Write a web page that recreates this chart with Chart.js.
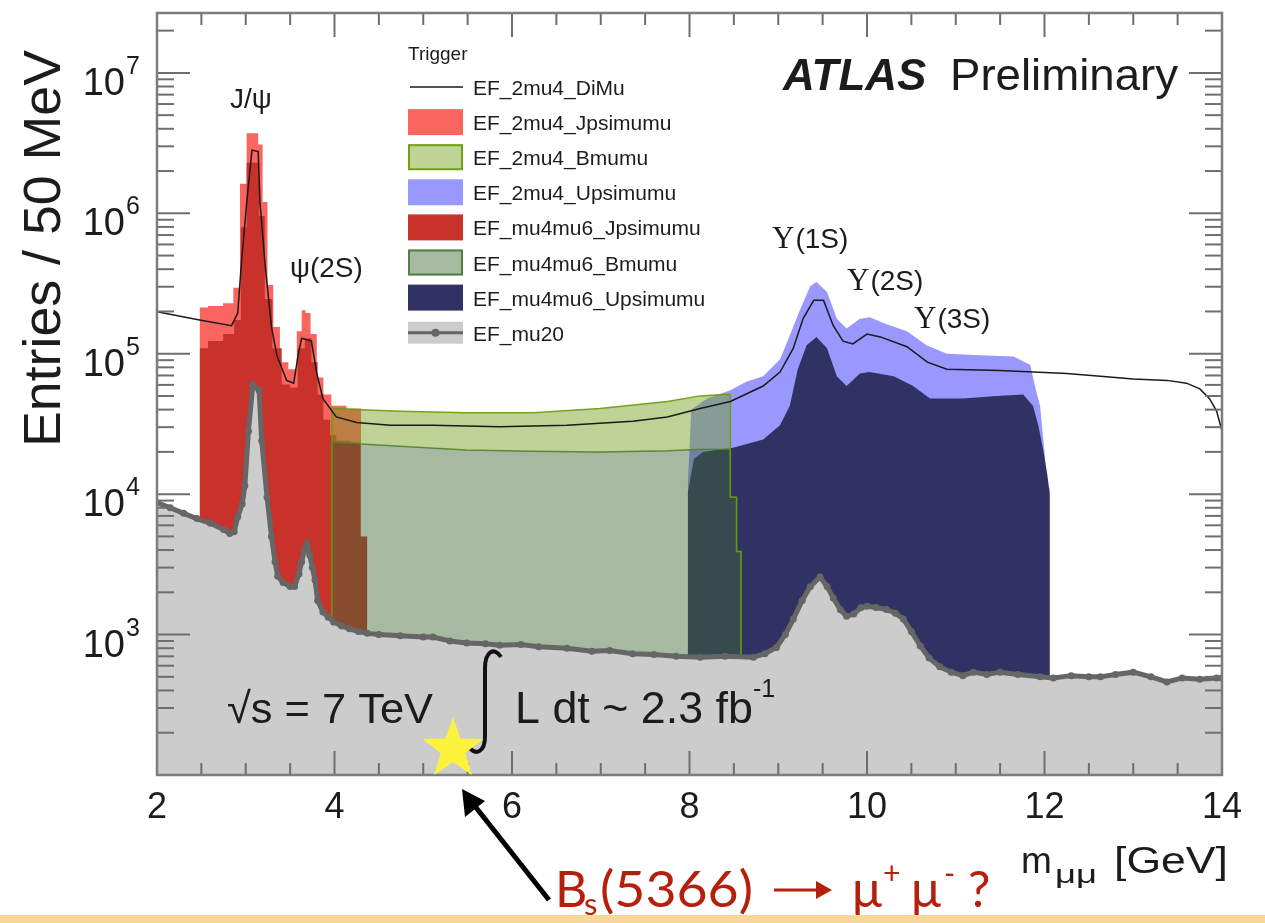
<!DOCTYPE html>
<html>
<head>
<meta charset="utf-8">
<script src="https://cdn.jsdelivr.net/npm/chart.js@4.4.1/dist/chart.umd.min.js"></script>
<style>
  html, body { margin: 0; padding: 0; background: #fff; }
  #wrap { width: 1265px; height: 923px; }
</style>
</head>
<body>
<div id="wrap"><canvas id="chart" width="1265" height="923"></canvas></div>
<script>
// Dimuon mass spectrum, entries / 50 MeV, per trigger
// 100 is the floor of the log axis, used where a histogram switches on/off

const mu20Mass = [2.00, 2.15, 2.30, 2.45, 2.60, 2.75, 2.82, 2.87, 2.91, 2.96, 2.99, 3.03, 3.08, 3.15, 3.18, 3.24, 3.29, 3.33, 3.36, 3.42, 3.50, 3.55, 3.60, 3.63, 3.66, 3.69, 3.72, 3.75, 3.78, 3.81, 3.87, 3.93, 3.99, 4.08, 4.17, 4.27, 4.37, 4.50, 4.74, 5.00, 5.11, 5.30, 5.49, 5.70, 5.86, 6.10, 6.30, 6.62, 6.90, 7.10, 7.36, 7.60, 7.85, 8.12, 8.40, 8.72, 8.85, 8.98, 9.08, 9.17, 9.27, 9.36, 9.47, 9.55, 9.62, 9.70, 9.77, 9.85, 9.93, 10.00, 10.10, 10.22, 10.32, 10.41, 10.50, 10.60, 10.70, 10.82, 10.95, 11.08, 11.20, 11.35, 11.50, 11.70, 11.95, 12.10, 12.30, 12.50, 12.63, 12.80, 13.00, 13.20, 13.38, 13.55, 13.75, 13.94, 14.00];
const mu20Entries = [8700, 8000, 7300, 6700, 6200, 5600, 5250, 5400, 6900, 8500, 11500, 28000, 60000, 55000, 24000, 9500, 5000, 3300, 2600, 2350, 2200, 2200, 2700, 3300, 4000, 4400, 3700, 3000, 2450, 1750, 1450, 1330, 1230, 1150, 1100, 1050, 1020, 1000, 980, 960, 960, 900, 870, 860, 840, 850, 820, 800, 760, 770, 730, 720, 700, 690, 700, 690, 730, 810, 1000, 1290, 1750, 2190, 2570, 2200, 1820, 1500, 1350, 1400, 1550, 1590, 1560, 1510, 1420, 1290, 1050, 830, 680, 590, 540, 510, 540, 520, 540, 520, 500, 490, 510, 500, 500, 520, 540, 500, 460, 490, 480, 490, 490];

const diMuMass = [2.00, 2.48, 2.84, 2.91, 2.95, 3.01, 3.07, 3.14, 3.16, 3.22, 3.29, 3.35, 3.46, 3.54, 3.59, 3.63, 3.74, 3.80, 3.87, 4.02, 4.25, 4.63, 5.11, 5.86, 6.62, 7.36, 7.75, 8.12, 8.46, 8.83, 9.02, 9.17, 9.28, 9.40, 9.51, 9.62, 9.73, 9.84, 10.00, 10.15, 10.45, 10.68, 10.90, 11.50, 12.25, 12.63, 13.00, 13.38, 13.60, 13.75, 13.86, 13.94, 14.00];
const diMuEntries = [199500, 173800, 158500, 195000, 436500, 1175000, 2818000, 2754000, 1202000, 416900, 154900, 97700, 64600, 61700, 97700, 128800, 123000, 72400, 47900, 35500, 32400, 30900, 30900, 30200, 30900, 33100, 35500, 40700, 45700, 58900, 74100, 109600, 177800, 239900, 239900, 158500, 123000, 117500, 138000, 131800, 112200, 87100, 77600, 75900, 72400, 69200, 66100, 64600, 61700, 56200, 47900, 38900, 28200];

const jpsi2mu4Mass = [2.48, 2.48, 2.67, 2.82, 2.90, 2.97, 3.05, 3.12, 3.16, 3.22, 3.27, 3.35, 3.42, 3.54, 3.61, 3.65, 3.70, 3.76, 3.84, 3.91, 4.02, 4.25, 4.30, 4.30];
const jpsi2mu4Entries = [100, 213800, 218800, 229100, 295100, 1622000, 3715000, 3715000, 3090000, 1202000, 309000, 154900, 87100, 77600, 144500, 204200, 195000, 138000, 67600, 51300, 42700, 40700, 40700, 100];

const jpsiMu4mu6Mass = [2.48, 2.48, 2.67, 2.82, 2.92, 2.97, 3.05, 3.12, 3.18, 3.25, 3.35, 3.46, 3.54, 3.63, 3.70, 3.78, 3.84, 3.91, 3.99, 4.05, 4.29, 4.29, 4.37, 4.37];
const jpsiMu4mu6Entries = [100, 109600, 123000, 138000, 173800, 794300, 2291000, 2291000, 955000, 245500, 109600, 60300, 57500, 109600, 128800, 87100, 51300, 33900, 26300, 24000, 23400, 5000, 5000, 100];

const bmumuMass = [3.97, 3.97, 4.74, 5.49, 6.24, 6.99, 7.75, 8.12, 8.38, 8.46, 8.46, 8.53, 8.53, 8.58, 8.58];
const bmumu2mu4Entries = [100, 40700, 38900, 38000, 38000, 40700, 45700, 50100, 51300, 51300, 9500, 9500, 3900, 3900, 100];
const bmumuMu4mu6Entries = [100, 23400, 21900, 20600, 20200, 20000, 20400, 20900, 20900, 20900, 9500, 9500, 3900, 3900, 100];

const upsi2mu4Mass = [7.98, 7.98, 8.02, 8.20, 8.46, 8.64, 8.83, 9.02, 9.13, 9.25, 9.36, 9.43, 9.55, 9.66, 9.77, 9.92, 10.03, 10.22, 10.45, 10.67, 10.90, 11.27, 11.65, 11.84, 11.90, 11.95, 12.00, 12.03, 12.06, 12.06];
const upsi2mu4Entries = [100, 11000, 40000, 47900, 55000, 63100, 69200, 91200, 134900, 208900, 302000, 323600, 275400, 177800, 151400, 177800, 182000, 162200, 144500, 114800, 100000, 97700, 95500, 83200, 56200, 42700, 20000, 11000, 11000, 100];

const upsiMu4mu6Mass = [7.98, 7.98, 8.05, 8.15, 8.49, 8.83, 9.02, 9.13, 9.22, 9.32, 9.43, 9.55, 9.66, 9.77, 9.92, 10.03, 10.30, 10.52, 10.71, 11.08, 11.46, 11.76, 11.87, 11.93, 11.99, 12.03, 12.06, 12.06];
const upsiMu4mu6Entries = [100, 10200, 17800, 20000, 21400, 24500, 30900, 42700, 77600, 114800, 131800, 109600, 69200, 58900, 72400, 74100, 69200, 58900, 47900, 47900, 50100, 51300, 42700, 30900, 20000, 14000, 10000, 100];

// axis ticks
const xTickValues = [2, 4, 6, 8, 10, 12, 14];
const yDecades = [3, 4, 5, 6, 7];

// legend
const legendLabels = ['EF_2mu4_DiMu', 'EF_2mu4_Jpsimumu', 'EF_2mu4_Bmumu', 'EF_2mu4_Upsimumu',
  'EF_mu4mu6_Jpsimumu', 'EF_mu4mu6_Bmumu', 'EF_mu4mu6_Upsimumu', 'EF_mu20'];

const SANS = '"Liberation Sans", Arial, Helvetica, sans-serif';
const SERIF = '"Liberation Serif", "Times New Roman", serif';
const INK = '#1c1c1c';

const colors = {
  jpsi2mu4: '#fa6560',
  jpsiMu4mu6: '#c8322a',
  bmumu2mu4: 'rgba(115, 159, 28, 0.46)',
  bmumu2mu4Line: 'rgba(105, 155, 10, 0.9)',
  bmumuMu4mu6: 'rgba(61, 105, 50, 0.46)',
  bmumuMu4mu6Line: 'rgba(75, 120, 55, 0.9)',
  upsi2mu4: '#9898ff',
  upsiMu4mu6: '#303264',
  mu20Fill: '#cccccc',
  mu20Line: '#666666',
  diMu: '#1a1a1a'
};

function pts(xs, ys) {
  return xs.map((x, i) => ({ x: x, y: ys[i] }));
}

function filled(label, data, color, order, stepped) {
  return {
    label: label,
    data: data,
    backgroundColor: color,
    borderColor: 'rgba(0,0,0,0)',
    borderWidth: 1,
    pointRadius: 0,
    fill: 'start',
    stepped: stepped || false,
    order: order
  };
}

// ---------- drawing helpers ----------
function text(ctx, s, x, y, size, opts) {
  opts = opts || {};
  ctx.font = (opts.style || '') + ' ' + (opts.weight || '') + ' ' + size + 'px ' + (opts.family || SANS);
  ctx.fillStyle = opts.color || INK;
  ctx.textAlign = opts.align || 'left';
  ctx.textBaseline = 'alphabetic';
  const w = ctx.measureText(s).width;
  if (opts.width) {
    ctx.save();
    ctx.translate(x, y);
    ctx.scale(opts.width / w, 1);
    ctx.fillText(s, 0, 0);
    ctx.restore();
    return x + opts.width;
  }
  ctx.fillText(s, x, y);
  return x + w;
}

function line(ctx, x1, y1, x2, y2) {
  ctx.beginPath();
  ctx.moveTo(x1, y1);
  ctx.lineTo(x2, y2);
  ctx.stroke();
}

function star(ctx, cx, cy, R, r) {
  ctx.beginPath();
  for (let i = 0; i < 10; i++) {
    const rad = i % 2 === 0 ? R : r;
    const a = -Math.PI / 2 + i * Math.PI / 5;
    const px = cx + rad * Math.cos(a), py = cy + rad * Math.sin(a);
    if (i === 0) ctx.moveTo(px, py); else ctx.lineTo(px, py);
  }
  ctx.closePath();
  ctx.fill();
}

const background = {
  id: 'background',
  beforeDraw(chart) {
    const ctx = chart.ctx;
    ctx.save();
    ctx.fillStyle = '#ffffff';
    ctx.fillRect(0, 0, chart.width, chart.height);
    ctx.restore();
  }
};

const decorations = {
  id: 'decorations',
  afterDraw(chart) {
    const ctx = chart.ctx;
    const xs = chart.scales.x, ys = chart.scales.y, a = chart.chartArea;
    ctx.save();

    // ROOT style ticks, inside the frame on all four sides
    ctx.strokeStyle = '#6e6e6e';
    ctx.lineWidth = 2;
    for (let m = 2; m <= 14.001; m += 0.5) {
      const px = xs.getPixelForValue(m);
      const len = Math.abs(m % 2) < 0.01 ? 24 : 12;
      line(ctx, px, a.bottom, px, a.bottom - len);
      line(ctx, px, a.top, px, a.top + len);
    }
    for (let e = 2; e <= 7; e++) {
      for (let k = 1; k <= 9; k++) {
        const v = k * Math.pow(10, e);
        if (v > ys.max) break;
        const py = ys.getPixelForValue(v);
        const len = k === 1 ? 33 : 17;
        line(ctx, a.left, py, a.left + len, py);
        line(ctx, a.right, py, a.right - len, py);
      }
    }
    ctx.strokeStyle = '#7d7d7d';
    ctx.lineWidth = 2.5;
    ctx.strokeRect(a.left, a.top, a.right - a.left, a.bottom - a.top);

    // tick labels
    xTickValues.forEach(v => {
      text(ctx, String(v), xs.getPixelForValue(v), 818, 36, { align: 'center' });
    });
    yDecades.forEach(e => {
      const py = ys.getPixelForValue(Math.pow(10, e));
      text(ctx, '10', 125, py + 22, 38, { align: 'right' });
      text(ctx, String(e), 126, py + 1, 25);
    });

    // axis titles
    ctx.save();
    ctx.translate(60, 447);
    ctx.rotate(-Math.PI / 2);
    text(ctx, 'Entries / 50 MeV', 0, 0, 51, { width: 397 });
    ctx.restore();
    text(ctx, 'm', 1021, 873, 37);
    text(ctx, 'μμ', 1055, 883, 26, { width: 42 });
    text(ctx, '[GeV]', 1114, 873, 37, { width: 114 });

    // ATLAS label
    text(ctx, 'ATLAS', 783, 90, 44, { style: 'italic', weight: 'bold' });
    text(ctx, 'Preliminary', 950, 90, 44, { width: 228 });

    // resonance labels
    text(ctx, 'J/ψ', 230, 108, 28);
    text(ctx, 'ψ(2S)', 290, 277, 28);
    [['(1S)', 772, 248], ['(2S)', 847, 290], ['(3S)', 914, 328]].forEach(r => {
      const nx = text(ctx, 'Υ', r[1], r[2], 31, { family: SERIF });
      text(ctx, r[0], nx + 1, r[2], 28);
    });

    // energy / luminosity
    text(ctx, '√s = 7 TeV', 227, 723, 43, { width: 206 });
    ctx.strokeStyle = '#111';
    ctx.lineWidth = 4;
    ctx.beginPath();
    ctx.moveTo(501, 657);
    ctx.bezierCurveTo(494, 646, 485, 652, 485, 668);
    ctx.lineTo(485, 736);
    ctx.bezierCurveTo(485, 752, 476, 756, 469, 747);
    ctx.stroke();
    const lx0 = text(ctx, 'L dt ~ 2.3 fb', 515, 723, 44, { width: 238 });
    text(ctx, '-1', lx0, 697, 25);

    // legend
    const lx = 408, lw = 55, lh = 26;
    text(ctx, 'Trigger', lx, 60, 19);
    const swatches = [null, colors.jpsi2mu4, colors.bmumu2mu4, colors.upsi2mu4,
      colors.jpsiMu4mu6, colors.bmumuMu4mu6, colors.upsiMu4mu6, colors.mu20Fill];
    const borders = [null, null, colors.bmumu2mu4Line, null, null, colors.bmumuMu4mu6Line, null, null];
    legendLabels.forEach((lab, i) => {
      const cy = 87 + i * 35.1;
      if (i === 0) {
        ctx.strokeStyle = colors.diMu;
        ctx.lineWidth = 1.5;
        line(ctx, lx + 2, cy, lx + lw, cy);
      } else if (i === 7) {
        ctx.fillStyle = colors.mu20Fill;
        ctx.fillRect(lx, cy - 11, lw, 22);
        ctx.strokeStyle = colors.mu20Line;
        ctx.lineWidth = 3;
        line(ctx, lx, cy, lx + lw, cy);
        ctx.fillStyle = colors.mu20Line;
        ctx.beginPath();
        ctx.arc(lx + lw / 2, cy, 4, 0, Math.PI * 2);
        ctx.fill();
      } else {
        ctx.fillStyle = swatches[i];
        ctx.fillRect(lx, cy - lh / 2, lw, lh);
        if (borders[i]) {
          ctx.strokeStyle = borders[i];
          ctx.lineWidth = 2;
          ctx.strokeRect(lx + 1, cy - lh / 2 + 1, lw - 2, lh - 2);
        }
      }
      text(ctx, lab, 473, cy + 8, 21);
    });

    // B_s annotation
    ctx.fillStyle = '#fdf23c';
    star(ctx, 453, 749, 32, 13);
    ctx.strokeStyle = '#000';
    ctx.fillStyle = '#000';
    ctx.lineWidth = 5;
    line(ctx, 549, 900, 474, 805);
    ctx.beginPath();
    ctx.moveTo(462, 789);
    ctx.lineTo(485, 801);
    ctx.lineTo(465, 817);
    ctx.closePath();
    ctx.fill();

    const red = '#b5200d';
    const BS = 'Lato, "Open Sans", sans-serif';
    text(ctx, 'B', 555, 907, 50, { family: BS, color: red });
    text(ctx, 's', 584, 915, 31, { family: BS, color: red });
    text(ctx, '(5366)', 600, 907, 50, { family: BS, color: red, width: 153 });
    ctx.strokeStyle = red;
    ctx.fillStyle = red;
    ctx.lineWidth = 3;
    line(ctx, 774, 890, 820, 890);
    ctx.beginPath();
    ctx.moveTo(832, 890);
    ctx.lineTo(816, 881);
    ctx.lineTo(816, 899);
    ctx.closePath();
    ctx.fill();
    text(ctx, 'µ', 851, 907, 50, { family: BS, color: red });
    text(ctx, '+', 883, 884, 30, { family: BS, color: red });
    text(ctx, 'µ', 910, 907, 50, { family: BS, color: red });
    text(ctx, '-', 944, 884, 30, { family: BS, color: red });
    text(ctx, '?', 968, 907, 50, { family: BS, color: red });

    // slide rule at the bottom
    ctx.fillStyle = '#f8d79a';
    ctx.fillRect(0, 915, chart.width, 8);

    ctx.restore();
  }
};

const datasets = [
  filled('EF_2mu4_Jpsimumu', pts(jpsi2mu4Mass, jpsi2mu4Entries), colors.jpsi2mu4, 9, 'middle'),
  filled('EF_mu4mu6_Jpsimumu', pts(jpsiMu4mu6Mass, jpsiMu4mu6Entries), colors.jpsiMu4mu6, 8, 'middle'),
  filled('EF_2mu4_Upsimumu', pts(upsi2mu4Mass, upsi2mu4Entries), colors.upsi2mu4, 7),
  filled('EF_mu4mu6_Upsimumu', pts(upsiMu4mu6Mass, upsiMu4mu6Entries), colors.upsiMu4mu6, 6),
  {
    label: 'EF_mu4mu6_Bmumu',
    data: pts(bmumuMass, bmumuMu4mu6Entries),
    backgroundColor: colors.bmumuMu4mu6,
    borderColor: colors.bmumuMu4mu6Line,
    borderWidth: 1.5,
    pointRadius: 0,
    fill: 'start',
    order: 5
  },
  {
    label: 'EF_2mu4_Bmumu',
    data: pts(bmumuMass, bmumu2mu4Entries),
    backgroundColor: colors.bmumu2mu4,
    borderColor: colors.bmumu2mu4Line,
    borderWidth: 1.5,
    pointRadius: 0,
    fill: { target: 4 },
    order: 4
  },
  {
    label: 'EF_mu20',
    data: pts(mu20Mass, mu20Entries),
    backgroundColor: colors.mu20Fill,
    borderColor: colors.mu20Line,
    borderWidth: 5,
    pointRadius: 3.5,
    pointBorderWidth: 0,
    pointBackgroundColor: colors.mu20Line,
    fill: 'start',
    order: 2
  },
  {
    label: 'EF_2mu4_DiMu',
    data: pts(diMuMass, diMuEntries),
    borderColor: colors.diMu,
    borderWidth: 1.5,
    pointRadius: 0,
    fill: false,
    order: 1
  }
];

new Chart(document.getElementById('chart').getContext('2d'), {
  type: 'line',
  data: { datasets: datasets },
  options: {
    responsive: false,
    animation: false,
    events: [],
    layout: { padding: { left: 157, right: 43, top: 13, bottom: 148 } },
    plugins: {
      legend: { display: false },
      tooltip: { enabled: false }
    },
    scales: {
      x: { type: 'linear', min: 2, max: 14, display: false },
      y: { type: 'logarithmic', min: 100, max: 2.67e7, display: false }
    }
  },
  plugins: [background, decorations]
});
</script>
</body>
</html>
